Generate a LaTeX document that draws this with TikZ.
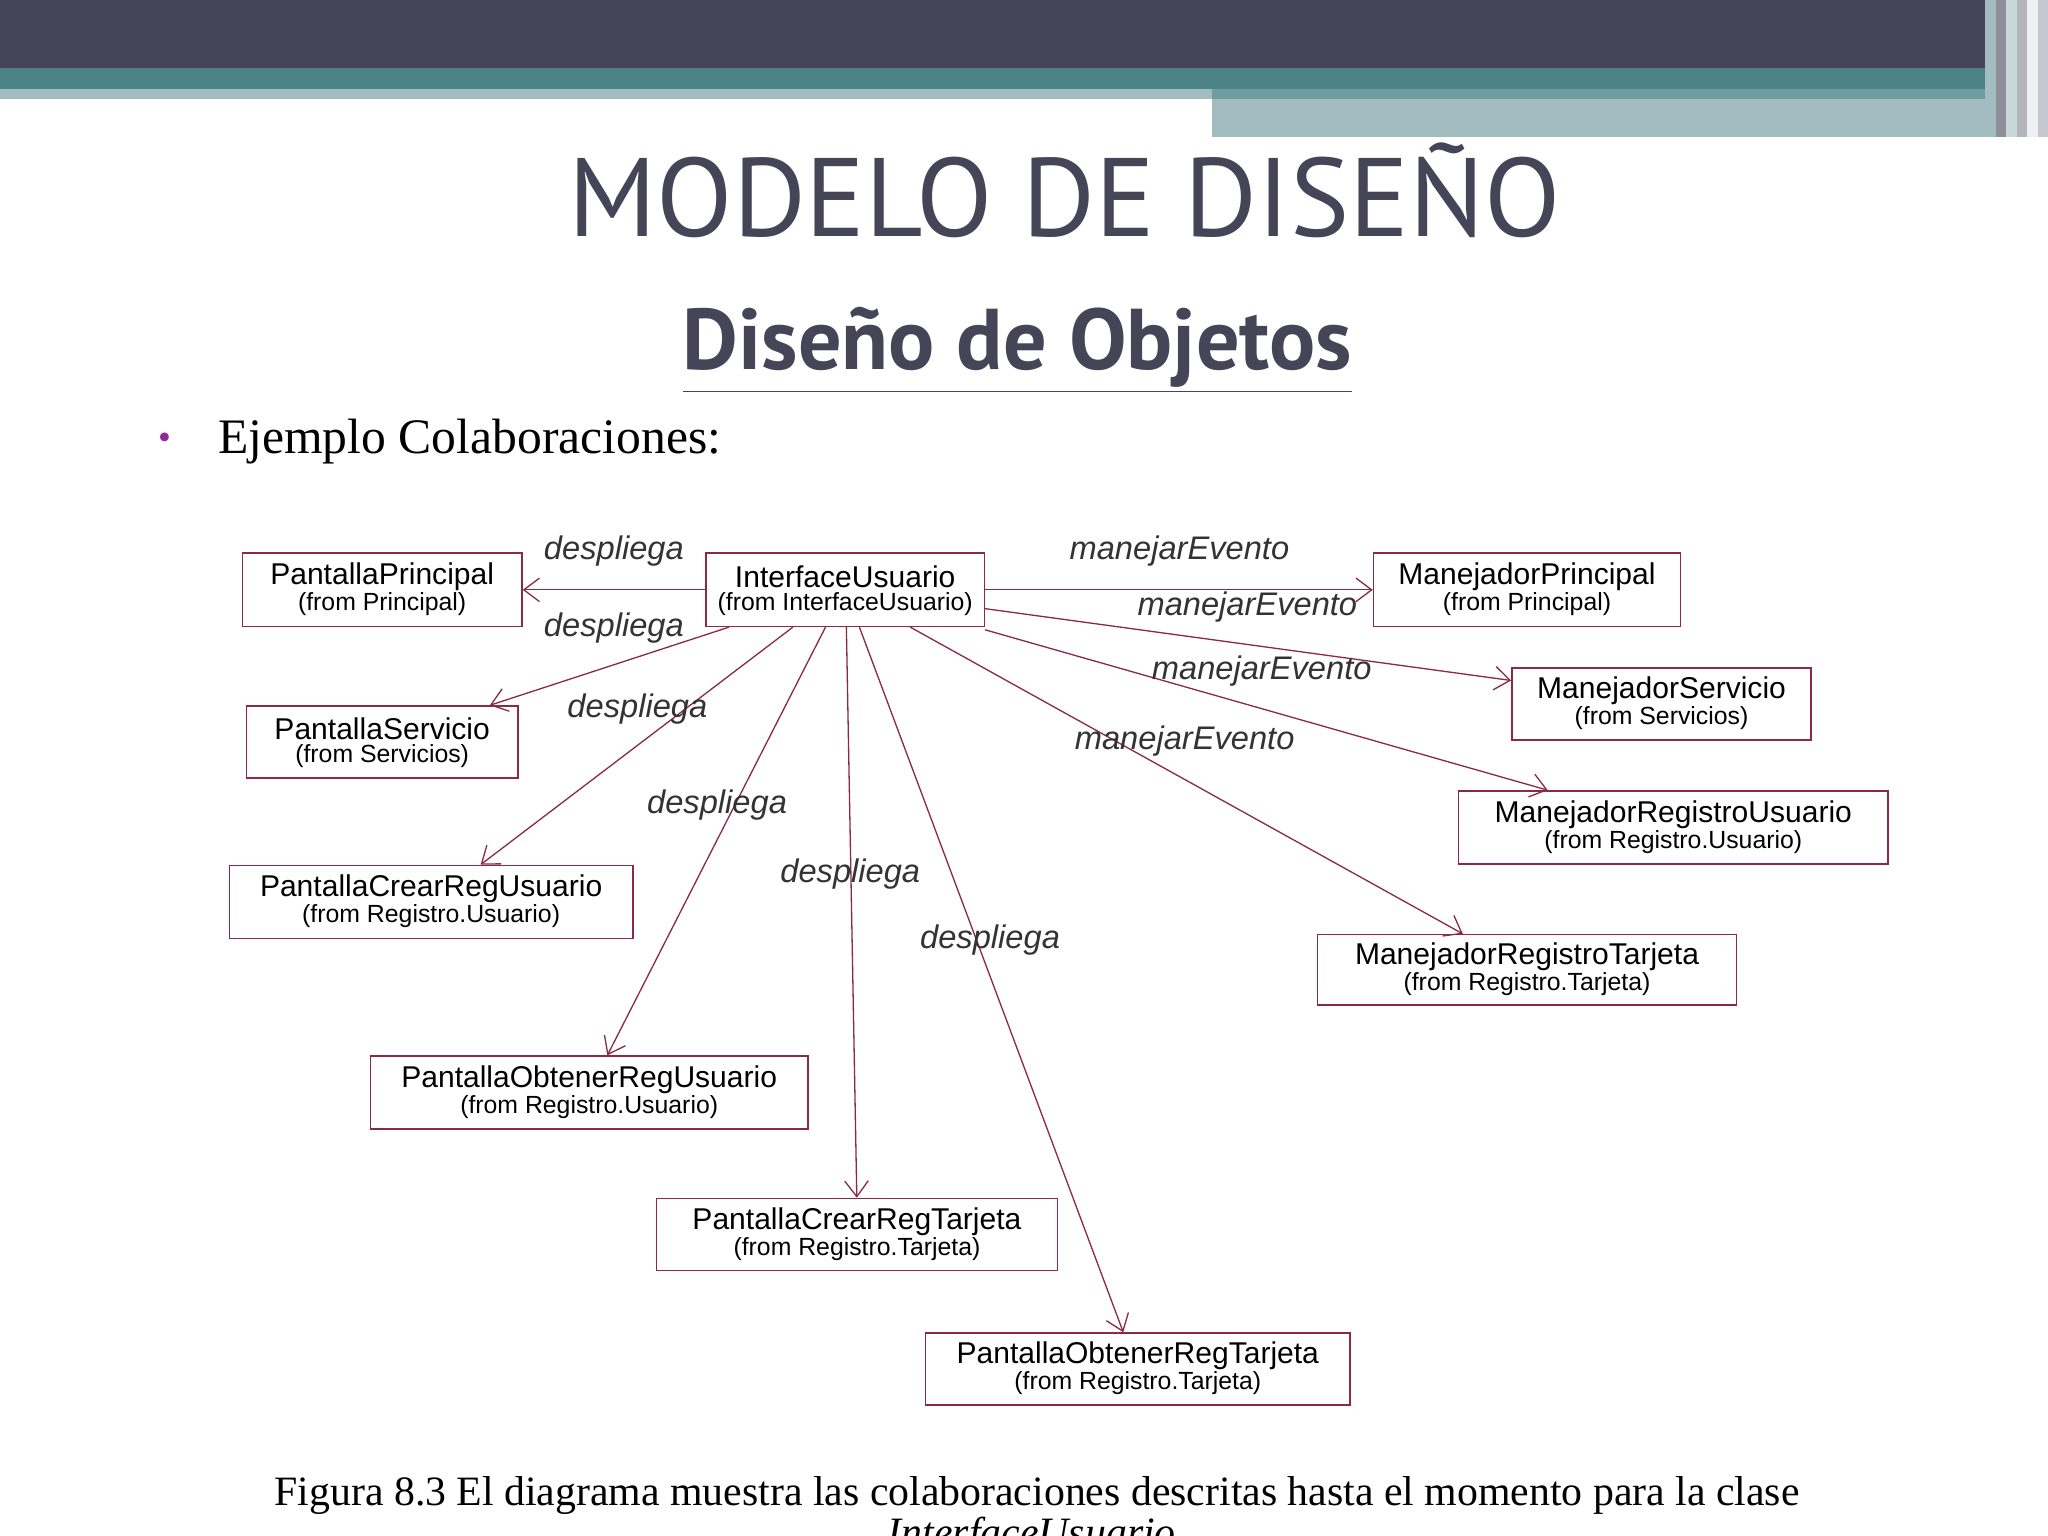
\documentclass[tikz,border=0pt]{standalone}
\usepackage{fontspec}
\setmainfont{Liberation Serif}
\setsansfont{Liberation Sans}
\newfontfamily\titlefont{PT Sans}
\usetikzlibrary{arrows.meta,calc}
\definecolor{hdark}{HTML}{454557}
\definecolor{hteal}{HTML}{4B8388}
\definecolor{hlight}{HTML}{A3BCC0}
\definecolor{edgec}{HTML}{8A2A45}
\tikzset{
 cls/.style={draw=edgec,line width=0.6pt,fill=white,inner sep=0pt,font=\sffamily},
 rel/.style={draw=edgec,line width=0.5pt,-{Straight Barb[length=6pt,width=9pt]}},
 lbl/.style={font=\sffamily\itshape\fontsize{12.5}{14}\selectfont,text=black!80}
}
\newcommand{\clsbox}[7]{%
 \node[cls,minimum width={(#4-#2)*0.5pt},minimum height={(#5-#3)*0.5pt},anchor=north west] (#1) at (#2,#3) {};
 \node[font=\sffamily\fontsize{11.5}{13}\selectfont] at ($(#1.center)+(0,-10)$) {#6};
 \node[font=\sffamily\fontsize{9.5}{11}\selectfont] at ($(#1.center)+(0,11)$) {#7};}
\begin{document}
\begin{tikzpicture}[x=0.5pt,y=-0.5pt]
\useasboundingbox (0,0) rectangle (1568,1176);
\clip (0,0) rectangle (1568,1176);
\fill[white] (0,0) rectangle (1568,1176);
% header
\fill[hdark] (0,0) rectangle (1568,52);
\fill[hteal] (0,52) rectangle (1568,68);
\fill[hlight] (0,68) rectangle (928,76);
\fill[hlight] (928,68) rectangle (1520,105);
\fill[hteal!80] (928,68) rectangle (1520,76);
\foreach \x/\c in {1520/hlight,1528/hdark!60,1536/hlight!60,1544/hdark!40,1552/white!80!hlight,1560/hdark!30}
  \fill[\c] (\x,0) rectangle ++(8,105);
% titles
\node[font=\titlefont\fontsize{42.7}{48}\selectfont,text=hdark] (title) at (815,146) {MODELO DE DISEÑO};
\node[font=\titlefont\bfseries\fontsize{33}{38}\selectfont,text=hdark] (sub) at (779,268) {\underline{Diseño de Objetos}};
\node[text=hdark!60!magenta,font=\fontsize{14}{16}\selectfont] (bul) at (126,338) {•};
\node[anchor=west,font=\fontsize{19}{21}\selectfont] (ej) at (160,338) {Ejemplo Colaboraciones:};
% classes
\clsbox{pp}{185}{423}{399}{479}{PantallaPrincipal}{(from Principal)}
\clsbox{iu}{540}{423}{753}{479}{InterfaceUsuario}{(from InterfaceUsuario)}
\clsbox{mp}{1051}{423}{1286}{479}{ManejadorPrincipal}{(from Principal)}
\clsbox{ms}{1157}{511}{1386}{566}{ManejadorServicio}{(from Servicios)}
\clsbox{ps}{188}{540}{396}{595}{PantallaServicio}{(from Servicios)}
\clsbox{mru}{1116}{605}{1445}{661}{ManejadorRegistroUsuario}{(from Registro.Usuario)}
\clsbox{pcru}{175}{662}{484}{718}{PantallaCrearRegUsuario}{(from Registro.Usuario)}
\clsbox{mrt}{1008}{715}{1329}{769}{ManejadorRegistroTarjeta}{(from Registro.Tarjeta)}
\clsbox{poru}{283}{808}{618}{864}{PantallaObtenerRegUsuario}{(from Registro.Usuario)}
\clsbox{pcrt}{502}{917}{809}{972}{PantallaCrearRegTarjeta}{(from Registro.Tarjeta)}
\clsbox{port}{708}{1020}{1033}{1075}{PantallaObtenerRegTarjeta}{(from Registro.Tarjeta)}
% relations
\draw[rel] (iu.west) -- (pp.east);
\draw[rel] ($(iu.south west)+(18,0)$) -- ($(ps.north west)+(187,0)$);
\draw[rel] ($(iu.south west)+(67,0)$) -- ($(pcru.north west)+(193,0)$);
\draw[rel] ($(iu.south west)+(92,0)$) -- ($(poru.north west)+(182,0)$);
\draw[rel] ($(iu.south west)+(108,0)$) -- ($(pcrt.north west)+(154,0)$);
\draw[rel] ($(iu.south west)+(118,0)$) -- ($(port.north west)+(152,0)$);
\draw[rel] (iu.east) -- (mp.west);
\draw[rel] ($(iu.north east)+(0,43)$) -- ($(ms.north west)+(0,10)$);
\draw[rel] ($(iu.south east)+(0,2)$) -- ($(mru.north west)+(69,0)$);
\draw[rel] ($(iu.south west)+(157,0)$) -- ($(mrt.north west)+(112,0)$);
% labels
\node[lbl] (l1) at (470,422) {despliega};
\node[lbl] (l2) at (470,481) {despliega};
\node[lbl] (l3) at (488,543) {despliega};
\node[lbl] (l4) at (549,616) {despliega};
\node[lbl] (l5) at (651,669) {despliega};
\node[lbl] (l6) at (758,720) {despliega};
\node[lbl] (m1) at (903,422) {manejarEvento};
\node[lbl] (m2) at (955,465) {manejarEvento};
\node[lbl] (m3) at (966,514) {manejarEvento};
\node[lbl] (m4) at (907,567) {manejarEvento};
% caption
\node[font=\fontsize{16}{18}\selectfont] (cap) at (794,1145) {Figura 8.3 El diagrama muestra las colaboraciones descritas hasta el momento para la clase};
\node[font=\itshape\fontsize{16}{18}\selectfont] (cap2) at (790,1176) {InterfaceUsuario};
\end{tikzpicture}
\end{document}
